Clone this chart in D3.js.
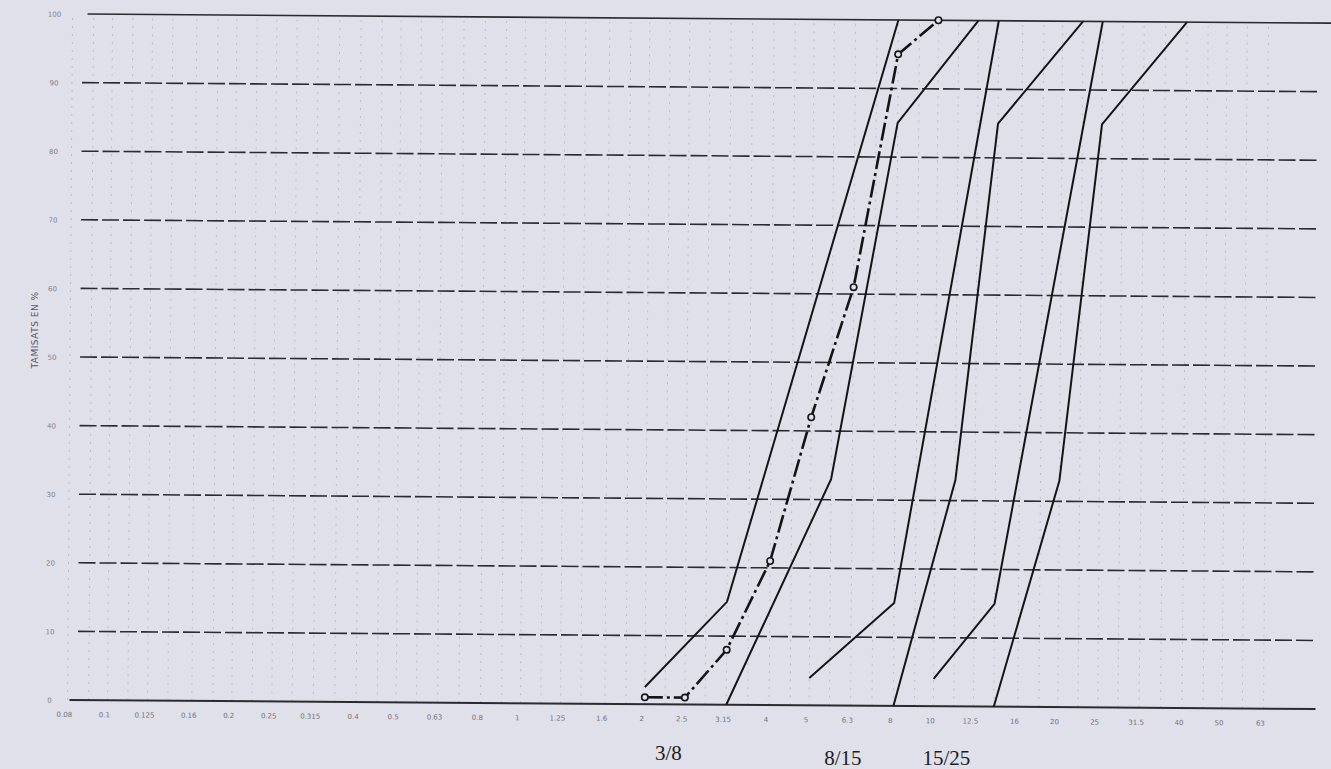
<!DOCTYPE html>
<html>
<head>
<meta charset="utf-8">
<script src="https://cdn.jsdelivr.net/npm/d3@7"></script>
<style>
  html, body { margin: 0; padding: 0; background: #dfe0e9; }
  svg { display: block; }
</style>
</head>
<body>
<svg id="chart" width="1331" height="769"></svg>
<script>
// ---- data (sieve openings in mm, passing in %) ----
const tickSizes = [0.08,0.1,0.125,0.16,0.2,0.25,0.315,0.4,0.5,0.63,0.8,1,1.25,1.6,2,2.5,3.15,4,5,6.3,8,10,12.5,16,20,25,31.5,40,50,63];
const tickLabels = ["0.08","0.1","0.125","0.16","0.2","0.25","0.315","0.4","0.5","0.63","0.8","1","1.25","1.6","2","2.5","3.15","4","5","6.3","8","10","12.5","16","20","25","31.5","40","50","63"];
const gridSizes = [0.08,0.09,0.1,0.112,0.125,0.14,0.16,0.18,0.2,0.224,0.25,0.28,0.315,0.355,0.4,0.45,0.5,0.56,0.63,0.71,0.8,0.9,1,1.12,1.25,1.4,1.6,1.8,2,2.24,2.5,2.8,3.15,3.55,4,4.5,5,5.6,6.3,7.1,8,9,10,11.2,12.5,14,16,18,20,22.4,25,28,31.5,35.5,40,45,50,56,63];
const pctTicks = [0,10,20,30,40,50,60,70,80,90,100];

// envelope (fuseau) limits
const env38Upper   = [[2,2.5],[3.15,15],[8,100]];
const env38Lower   = [[3.15,0],[5.6,33],[8,85],[12.5,100]];
const env815Upper  = [[5,4],[8,15],[14,100]];
const env815Lower  = [[8,0],[11.2,33],[14,85],[22.4,100]];
const env1525Upper = [[10,4],[14,15],[25,100]];
const env1525Lower = [[14,0],[20,33],[25,85],[40,100]];

// measured grading curve
const measSizes   = [2,2.5,3.15,4,5,6.3,8,10];
const measPassing = [1,1,8,21,42,61,95,100];

// fraction labels
const fractionNames = ["3/8","8/15","15/25"];
const fractionAt    = [2.25,5.95,10.6];

// ---- drawing ----
const svg = d3.select("#chart");
const x = d3.scaleLog().domain([0.08, 63]).range([70, 1266]);
const y = d3.scaleLinear().domain([0, 100]).range([706, 20]);

const g = svg.append("g").attr("transform", "rotate(0.42, 900, 365)");

// vertical faint grid
g.append("g").selectAll("line").data(gridSizes).join("line")
  .attr("x1", d => x(d)).attr("x2", d => x(d))
  .attr("y1", y(0)).attr("y2", y(100))
  .attr("stroke", "#8d8e9c").attr("stroke-width", 1)
  .attr("stroke-dasharray", "2,6").attr("opacity", 0.4);

// horizontal grid
g.append("g").selectAll("line").data(pctTicks).join("line")
  .attr("x1", d => d === 100 ? 85 : (d === 0 ? 72 : 80))
  .attr("x2", d => d === 100 ? 1331 : 1318)
  .attr("y1", d => y(d)).attr("y2", d => y(d))
  .attr("stroke", "#2a2a30")
  .attr("stroke-width", d => (d === 0 ? 2 : 1.6))
  .attr("stroke-dasharray", d => (d === 0 || d === 100) ? null : "17,4");

// y tick labels
g.append("g").selectAll("text").data(pctTicks).join("text")
  .attr("x", 52).attr("y", d => y(d) + 3)
  .attr("text-anchor", "middle")
  .attr("font-family", "DejaVu Sans").attr("font-size", 7)
  .attr("fill", "#55565f").attr("opacity", 0.7)
  .text(d => d);

// x tick labels
g.append("g").selectAll("text").data(tickSizes).join("text")
  .attr("x", d => x(d) - 3).attr("y", 723)
  .attr("text-anchor", "middle")
  .attr("font-family", "DejaVu Sans").attr("font-size", 7)
  .attr("fill", "#4a4b55").attr("opacity", 0.75)
  .text((d, i) => tickLabels[i]);

// envelope curves
const line = d3.line().x(d => x(d[0])).y(d => y(d[1]));
const envelopes = [env38Upper, env38Lower, env815Upper, env815Lower, env1525Upper, env1525Lower];
g.append("g").selectAll("path").data(envelopes).join("path")
  .attr("d", line)
  .attr("fill", "none").attr("stroke", "#141418").attr("stroke-width", 2)
  .attr("stroke-linejoin", "miter");

// measured curve
const meas = measSizes.map((s, i) => [s, measPassing[i]]);
g.append("path").datum(meas)
  .attr("d", line)
  .attr("fill", "none").attr("stroke", "#141418").attr("stroke-width", 2.6)
  .attr("stroke-dasharray", "18,4,3,4");
g.append("g").selectAll("circle").data(meas).join("circle")
  .attr("cx", d => x(d[0])).attr("cy", d => y(d[1])).attr("r", 3.2)
  .attr("fill", "#dfe0e9").attr("stroke", "#141418").attr("stroke-width", 1.6);

// y axis title
svg.append("text")
  .attr("transform", "translate(38,330) rotate(-90)")
  .attr("text-anchor", "middle")
  .attr("font-family", "DejaVu Sans").attr("font-size", 9)
  .attr("fill", "#55565f").attr("letter-spacing", 0.5)
  .text("TAMISATS EN %");

// fraction labels
svg.append("g").selectAll("text").data(fractionNames).join("text")
  .attr("x", (d, i) => x(fractionAt[i]))
  .attr("y", (d, i) => i === 0 ? 760 : 765)
  .attr("text-anchor", "middle")
  .attr("font-family", "Liberation Serif").attr("font-size", 21)
  .attr("fill", "#1c1c22")
  .text(d => d);
</script>
</body>
</html>
